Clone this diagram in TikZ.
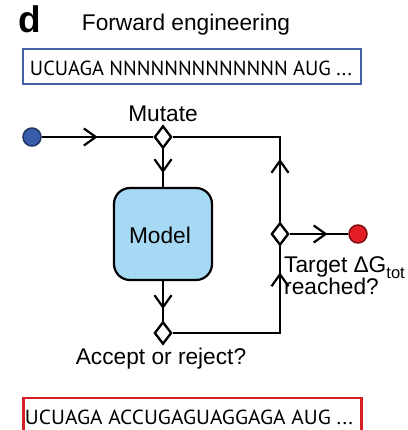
\documentclass[tikz,border=0pt]{standalone}
\usepackage{fontspec}
\setmainfont{Liberation Sans}
\newfontfamily\seqfont{PT Sans}
\usetikzlibrary{shapes.geometric,arrows.meta,decorations.markings}
\definecolor{seqblue}{RGB}{68,98,168}
\definecolor{seqred}{RGB}{214,32,38}
\definecolor{modelblue}{RGB}{166,218,244}
\definecolor{dotblue}{RGB}{58,92,172}
\definecolor{dotred}{RGB}{226,30,36}
\begin{document}
\begin{tikzpicture}[x=1pt,y=-1pt,
  conn/.style={line width=2.2pt},
  arr/.style={postaction={decorate},decoration={markings,mark=at position #1 with {\arrow{Straight Barb[length=12pt,width=17pt,line width=2.2pt]}}}},
  dia/.style={diamond, draw, fill=white, line width=2.2pt, inner sep=0pt, minimum width=17pt, minimum height=22pt},
  dotnode/.style={circle, inner sep=0pt, minimum size=18pt, line width=1.5pt},
  modelbox/.style={rectangle, draw, fill=modelblue, rounded corners=16pt, line width=2.2pt, minimum width=98pt, minimum height=92pt, inner sep=0pt},
  lbl/.style={inner sep=0pt, font=\fontsize{22.7}{23}\selectfont},
  seqbox/.style={rectangle, draw, line width=2.2pt, minimum width=338pt, minimum height=35pt, inner sep=0pt}
]
\useasboundingbox (0,0) rectangle (407,430);
\clip (0,0) rectangle (407,430);
% title
\node[inner sep=0pt, anchor=base west, font=\fontsize{37}{37}\selectfont\bfseries] (panel) at (18,33) {d};
\node[lbl, anchor=base] (title) at (186,31) {Forward engineering};
% sequence boxes
\node[seqbox, draw=seqblue] (topseq) at (192,66.5) {};
\node[inner sep=0pt, anchor=base] (topseqtxt) at (191,75.5) {\resizebox{322pt}{14.5pt}{\seqfont UCUAGA NNNNNNNNNNNNN AUG ...}};
\node[seqbox, draw=seqred] (botseq) at (192.5,415.5) {};
\node[inner sep=0pt, anchor=base] (botseqtxt) at (189,424.5) {\resizebox{328pt}{14.5pt}{\seqfont UCUAGA ACCUGAGUAGGAGA AUG ...}};
% flow nodes
\node[dotnode, fill=dotblue, draw=dotblue!55!black] (start) at (32,137) {};
\node[dia] (mut) at (163,137) {};
\node[modelbox] (model) at (163,234) {};
\node[lbl, anchor=base] (modeltxt) at (160,243) {Model};
\node[dia] (acc) at (163,333) {};
\node[dia] (chk) at (280,234) {};
\node[dotnode, fill=dotred, draw=dotred!55!black] (end) at (358,234) {};
\coordinate (c1) at (280,137);
\coordinate (c2) at (280,333);
% connectors
\draw[conn, arr=56pt] (start) -- (mut);
\draw[conn, arr=24pt] (mut) -- (model);
\draw[conn, arr=28pt] (model) -- (acc);
\draw[conn, arr=63pt] (chk) -- (c1) -- (mut);
\draw[conn, arr=168pt] (acc) -- (c2) -- (chk);
\draw[conn, arr=38pt] (chk) -- (end);
% redraw diamonds on top
\node[dia] at (mut) {};
\node[dia] at (acc) {};
\node[dia] at (chk) {};
% labels
\node[lbl, anchor=base] (mutlbl) at (163,122) {Mutate};
\node[lbl, anchor=base] (acclbl) at (161,364) {Accept or reject?};
\node[lbl, anchor=base west] (tgtlbl) at (284,272) {Target ΔG\raisebox{-0.3em}{\fontsize{16.5}{16.5}\selectfont tot}};
\node[lbl, anchor=base west] (reachlbl) at (284,294) {reached?};
\end{tikzpicture}
\end{document}
